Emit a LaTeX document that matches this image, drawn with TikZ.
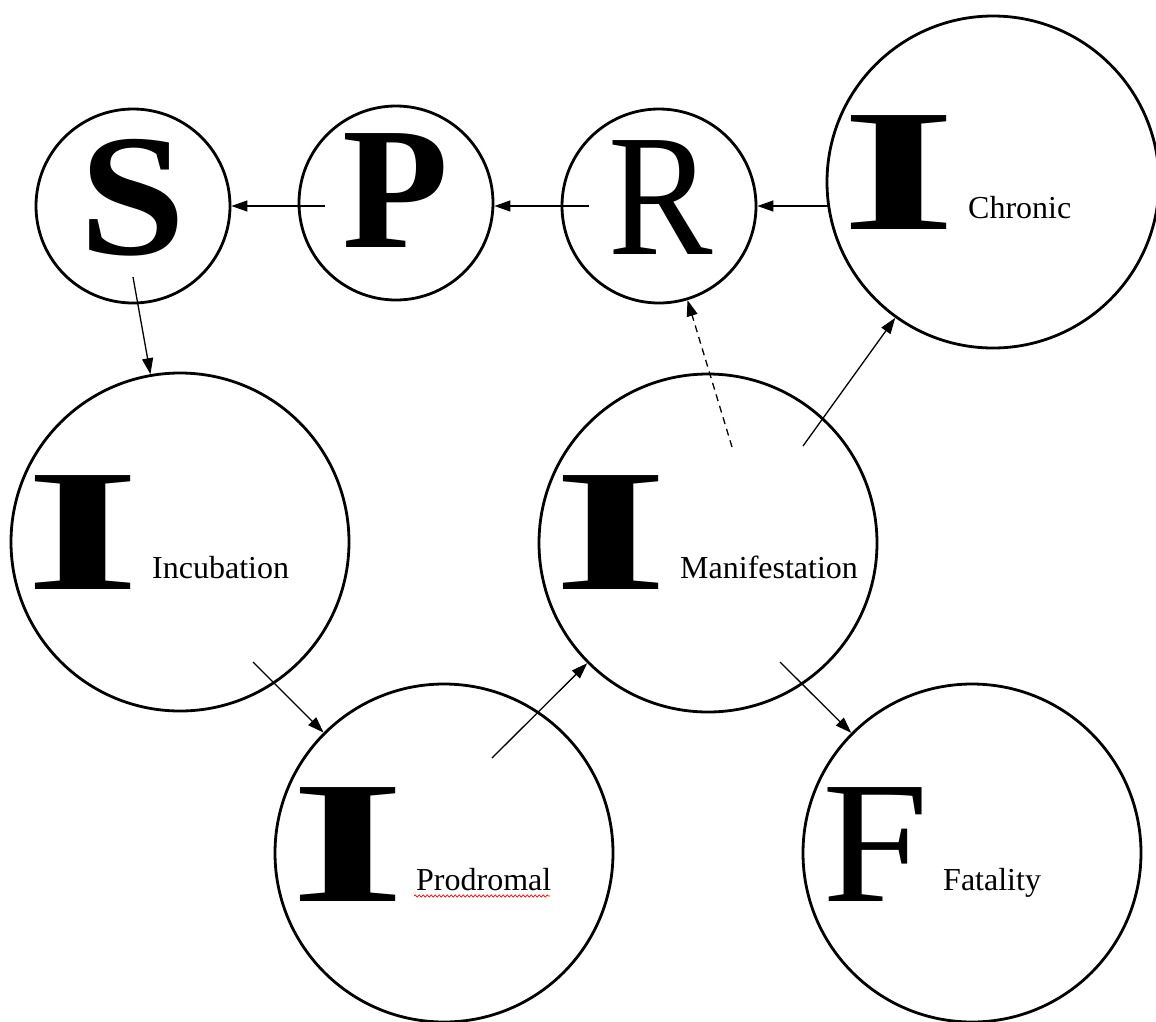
\documentclass[tikz,border=0pt]{standalone}
\usepackage{fontspec}
\setmainfont{Liberation Serif}
\usetikzlibrary{arrows.meta,decorations.pathmorphing}
\tikzset{
  stage/.style={draw, circle, line width=2.8pt, inner sep=0pt, minimum size=#1},
  bigbold/.style={inner sep=0pt, font=\fontsize{174}{174}\selectfont\bfseries},
  bigreg/.style={inner sep=0pt, font=\fontsize{174}{174}\selectfont},
  lbl/.style={inner sep=0pt, anchor=base west, font=\fontsize{32}{32}\selectfont},
  flow/.style={line width=1.3pt, -{Triangle[length=16pt,width=11pt]}},
  flowdash/.style={flow, dash pattern=on 7pt off 5pt}
}
\newcommand{\wideI}{\scalebox{1.7}[1]{I}}
\begin{document}
\begin{tikzpicture}[x=1pt,y=-1pt]
\useasboundingbox[fill=white] (0,0) rectangle (1156,1021);
% circles
\node[stage=194pt] (S) at (133,206) {};
\node[stage=194pt] (P) at (396,203) {};
\node[stage=194pt] (R) at (659,206) {};
\node[stage=332pt] (C) at (993,182) {};
\node[stage=338pt] (Inc) at (180,542) {};
\node[stage=338pt] (Man) at (708,543) {};
\node[stage=338pt] (Pro) at (444,853) {};
\node[stage=338pt] (Fat) at (972,853) {};
% big letters
\node[bigbold] (tS) at (132.5,197.5) {\scalebox{1.1}[1]{S}};
\node[bigbold] (tP) at (396,190.5) {P};
\node[bigreg] (tR) at (660.5,197.5) {\scalebox{0.9}[1]{R}};
\node[bigbold] (tC) at (899.5,172.5) {\wideI};
\node[bigbold] (tInc) at (83.5,532.5) {\wideI};
\node[bigbold] (tMan) at (611.5,533) {\wideI};
\node[bigbold] (tPro) at (348,845) {\wideI};
\node[bigreg] (tF) at (876,844.5) {\scalebox{1.1}[1]{F}};
% labels
\node[lbl] (lC) at (968,218) {Chronic};
\node[lbl] (lInc) at (152,578) {Incubation};
\node[lbl] (lMan) at (680,578) {Manifestation};
\node[lbl] (lPro) at (416,890) {Prodromal};
\node[lbl] (lFat) at (943,890) {Fatality};
\draw[red, line width=0.7pt, decorate, decoration={snake, amplitude=1.1pt, segment length=4pt}] (lPro.base west) ++(-2,6) -- ++(136,0);
% connector start points
\coordinate (aP) at (325,206);
\coordinate (aR) at (589,206);
\coordinate (aC) at (829,206);
\coordinate (aS) at (133,277);
\coordinate (aInc) at (253,662);
\coordinate (aPro) at (492,758);
\coordinate (aManR) at (732,447);
\coordinate (aManC) at (803,446);
\coordinate (aManF) at (780,662);
\coordinate (eS) at (133,206);
\coordinate (eP) at (396,206);
\coordinate (eR) at (659,206);
% connectors
\draw[flow] (aP) -- (eS -| S.east);
\draw[flow] (aR) -- (eP -| P.east);
\draw[flow] (aC) -- (eR -| R.east);
\draw[flow] (aS) -- (Inc.100);
\draw[flow] (aInc) -- (Pro);
\draw[flow] (aPro) -- (Man);
\draw[flowdash] (aManR) -- (R);
\draw[flow] (aManC) -- (C);
\draw[flow] (aManF) -- (Fat);
\end{tikzpicture}
\end{document}
